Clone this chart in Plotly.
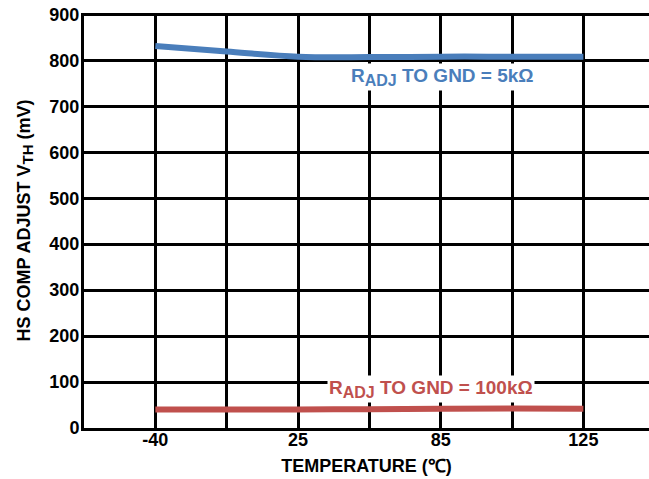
import plotly.graph_objects as go

# x positions on an evenly spaced grid; labelled temperatures at odd positions
x_pos = [1, 2, 3, 4, 5, 6, 7]
tick_pos = [1, 2, 3, 4, 5, 6, 7]
tick_text = ["-40", "", "25", "", "85", "", "125"]

vth_5k = [831, 819, 808, 807, 808, 808, 808]
vth_100k = [40, 40, 40.5, 41, 42, 42.5, 42]

blue = "#4a7ebb"
red = "#c0504d"
font_family = "Liberation Sans, Arial, sans-serif"
sub = '<sub><span style="font-size:{}px">{}</span></sub>'

fig = go.Figure()
fig.add_trace(go.Scatter(x=x_pos, y=vth_5k, mode="lines",
                         line=dict(color=blue, width=6, shape="spline"),
                         showlegend=False))
fig.add_trace(go.Scatter(x=x_pos, y=vth_100k, mode="lines",
                         line=dict(color=red, width=6, shape="spline"),
                         showlegend=False))

fig.add_annotation(x=5.02, y=764, xref="x", yref="y",
                   text="R" + sub.format(16, "ADJ") + " TO GND = 5kΩ", showarrow=False,
                   font=dict(family=font_family, size=19, color=blue, weight="bold"),
                   bgcolor="white", xanchor="center", yanchor="middle")
fig.add_annotation(x=4.86, y=85, xref="x", yref="y",
                   text="R" + sub.format(16, "ADJ") + " TO GND = 100kΩ", showarrow=False,
                   font=dict(family=font_family, size=19, color=red, weight="bold"),
                   bgcolor="white", xanchor="center", yanchor="middle")

fig.update_xaxes(range=[0, 7.92], tickmode="array", tickvals=tick_pos, ticktext=tick_text,
                 showgrid=True, gridcolor="black", gridwidth=2.5,
                 showline=True, linecolor="black", linewidth=3,
                 ticks="", zeroline=False, automargin=False, ticklabelstandoff=-7,
                 ticklabeloverflow="allow",
                 tickfont=dict(family=font_family, size=18, color="black", weight="bold"),
                 title=dict(text="TEMPERATURE (℃)", standoff=11,
                            font=dict(family=font_family, size=18, color="black", weight="bold")))
fig.update_yaxes(range=[0, 903], dtick=100, tick0=0,
                 showgrid=True, gridcolor="black", gridwidth=2.5,
                 showline=True, linecolor="black", linewidth=3,
                 ticks="", zeroline=False, automargin=False, ticklabelstandoff=-2,
                 ticklabeloverflow="allow",
                 tickfont=dict(family=font_family, size=18, color="black", weight="bold"),
                 title=dict(text="HS COMP ADJUST V" + sub.format(15, "TH") + " (mV)", standoff=15,
                            font=dict(family=font_family, size=18, color="black", weight="bold")))

fig.update_layout(width=649, height=479, margin=dict(l=84, r=0, t=13, b=51),
                  plot_bgcolor="white", paper_bgcolor="white")

fig.write_html("out.html", config={"displayModeBar": False},
               post_script="document.body.style.margin='0';")
